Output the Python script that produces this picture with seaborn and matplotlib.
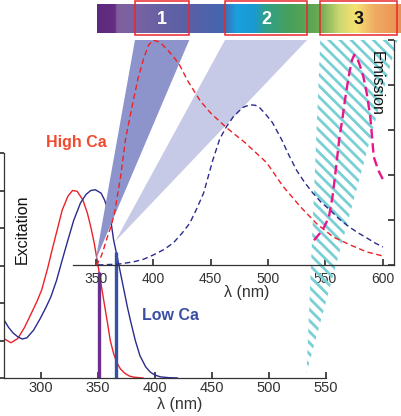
import matplotlib
matplotlib.use("Agg")
import matplotlib.pyplot as plt
from matplotlib.patches import Polygon, Rectangle
from matplotlib.colors import LinearSegmentedColormap
import numpy as np
import seaborn as sns

# --- excitation spectra (nm, a.u.) ---
ex_high_nm = [268, 274, 280, 286, 292, 297, 301, 306, 310, 315, 319, 324, 328, 332,
              337, 341, 344, 347, 350, 353, 356, 359, 361, 364, 367, 370, 374, 378, 382, 390]
ex_high = [1.05, 0.94, 1.05, 1.35, 1.73, 2.05, 2.35, 2.9, 3.4, 4.0, 4.48, 4.85, 5.0, 4.98,
           4.75, 4.4, 4.03, 3.6, 3.07, 2.5, 1.95, 1.4, 1.01, 0.65, 0.4, 0.24, 0.12, 0.05, 0.02, 0.0]

ex_low_nm = [268, 272, 276, 280, 284, 288, 294, 300, 305, 309, 314, 319, 324, 329, 335,
             340, 344, 348, 353, 356, 359, 362, 364, 367, 370, 373, 376, 379, 383, 387,
             392, 396, 400, 405, 412, 420]
ex_low = [1.55, 1.35, 1.2, 1.1, 1.04, 1.07, 1.28, 1.6, 1.9, 2.16, 2.6, 3.15, 3.68, 4.2, 4.67,
          4.9, 5.0, 5.02, 4.93, 4.75, 4.48, 4.1, 3.68, 3.25, 2.8, 2.35, 1.9, 1.5, 1.0, 0.6,
          0.3, 0.16, 0.08, 0.03, 0.01, 0.0]

# excitation lines (nm, height)
laser_nm = [351, 366]
laser_h = [2.82, 3.36]
laser_colors = ["#6b2f8f", "#3552a6"]

# --- emission spectra (nm, a.u.) ---
em_high_nm = [350, 352, 355, 357, 360, 364, 367, 372, 376, 380, 383, 387, 392, 396, 400,
              406, 412, 418, 423, 430, 441, 450, 464, 480, 499, 513, 528, 543, 557, 572,
              586, 600]
em_high = [0.0, 0.05, 0.2, 0.35, 0.6, 0.9, 1.22, 2.0, 2.78, 3.3, 3.67, 4.15, 4.6, 4.88, 5.0,
           4.95, 4.8, 4.62, 4.45, 4.1, 3.65, 3.38, 3.05, 2.72, 2.27, 1.75, 1.3, 0.9, 0.62,
           0.44, 0.29, 0.2]

em_low_nm = [352, 370, 383, 392, 400, 410, 418, 425, 432, 438, 444, 452, 458, 464, 470,
             478, 484, 489, 493, 498, 504, 512, 518, 525, 532, 539, 546, 554, 562, 571,
             578, 586, 593, 600]
em_low = [0.0, 0.02, 0.07, 0.13, 0.22, 0.35, 0.5, 0.7, 0.93, 1.25, 1.6, 2.33, 2.8, 3.08,
          3.3, 3.5, 3.56, 3.55, 3.49, 3.35, 3.16, 2.78, 2.45, 2.1, 1.83, 1.6, 1.4, 1.22,
          1.02, 0.84, 0.72, 0.6, 0.49, 0.4]

em_dye_nm = [540, 545, 549, 553, 556, 558, 560, 562, 565, 567, 569, 571, 573, 575, 577,
             579, 581, 583, 586, 589, 592, 596, 600]
em_dye = [0.55, 0.7, 0.85, 1.07, 1.5, 1.9, 2.35, 2.8, 3.3, 3.67, 4.0, 4.3, 4.55, 4.67, 4.62,
          4.5, 4.35, 4.18, 3.8, 3.29, 2.4, 2.1, 1.9]

# detection bands on the spectrum strip (nm)
band_labels = ["1", "2", "3"]
band_lo = [384.3, 462.6, 545.5]
band_hi = [431.5, 534.0, 612.5]
band_text_colors = ["white", "white", "#111111"]

# light cones: apex (nm, emission units) for each band
cone_apex_nm = [350.0, 367.0, 533.5]
cone_apex_y = [0.1, 0.52, -2.4]

# spectrum strip colour stops (nm, colour)
strip_nm = [351, 366, 368, 384, 410, 432, 460, 472, 488, 497, 519, 537, 545, 562, 576, 593, 616]
strip_col = ["#5c2a7c", "#642e82", "#80609e", "#7a62a2", "#6460a4", "#5860a6", "#4466b0",
             "#1aa0de", "#1a9ad0", "#30a08a", "#48a05a", "#5ca656", "#6eaa54", "#cdd870",
             "#f5e274", "#f0aa62", "#e89054"]

ex_ticks = [300, 350, 400, 450, 500, 550]
em_ticks = [350, 400, 450, 500, 550, 600]

sns.set_theme(style="ticks")
plt.rcParams["font.family"] = ["Liberation Sans", "DejaVu Sans"]
plt.rcParams["hatch.linewidth"] = 2.0

RED = "#ec2227"
NAVY = "#2a2b8f"
MAGENTA = "#e8168a"
TICK_COL = "#333333"

fig = plt.figure(figsize=(4.01, 4.16), dpi=100)
fig.patch.set_facecolor("white")

ax_ex = fig.add_axes([4 / 401, 1 - 378 / 416, 322 / 401, 225 / 416])
ax_em = fig.add_axes([73 / 401, 1 - 265 / 416, 321 / 401, 225 / 416])
ax_bar = fig.add_axes([73 / 401, 1 - 33 / 416, 328 / 401, 29 / 416])
for a in (ax_ex, ax_em, ax_bar):
    a.set_facecolor("none")

# ---- excitation axes ----
ax_ex.set_xlim(268, 550)
ax_ex.set_ylim(0, 6)
sns.lineplot(x=ex_high_nm, y=ex_high, ax=ax_ex, color=RED, linewidth=1.0, sort=False)
sns.lineplot(x=ex_low_nm, y=ex_low, ax=ax_ex, color=NAVY, linewidth=1.0, sort=False)
ax_ex.vlines(laser_nm, 0, laser_h, colors=laser_colors, linewidth=2.4, zorder=3)
ax_ex.set_xticks(ex_ticks)
ax_ex.set_yticks(range(7))
ax_ex.set_yticklabels([])
ax_ex.tick_params(axis="x", direction="in", length=4, pad=2, labelsize=10.5,
                  labelcolor=TICK_COL, color=TICK_COL)
ax_ex.tick_params(axis="y", direction="out", length=4, color=TICK_COL)
sns.despine(ax=ax_ex, top=True, right=True)
for s in ("left", "bottom"):
    ax_ex.spines[s].set_color(TICK_COL)
    ax_ex.spines[s].set_linewidth(0.9)
ax_ex.set_xlabel("")
ax_ex.set_ylabel("")

# ---- emission axes ----
ax_em.set_xlim(330.4, 609.6)
ax_em.set_ylim(0, 5)

# light cones from excitation to detection bands
cone_fill = ["#8d94cc", "#c6cae6", "none"]
for i in range(3):
    pts = [(cone_apex_nm[i], cone_apex_y[i]), (band_lo[i], 5.0), (band_hi[i], 5.0)]
    if i < 2:
        poly = Polygon(pts, closed=True, facecolor=cone_fill[i], edgecolor="none",
                       clip_on=False, zorder=1)
    else:
        poly = Polygon(pts, closed=True, facecolor="none", edgecolor="#78d0d4",
                       hatch="\\\\\\", linewidth=0, clip_on=False, zorder=1)
    ax_em.add_patch(poly)

sns.lineplot(x=em_high_nm, y=em_high, ax=ax_em, color=RED, linewidth=1.0,
             linestyle=(0, (4, 2.5)), sort=False)
sns.lineplot(x=em_low_nm, y=em_low, ax=ax_em, color=NAVY, linewidth=1.0,
             linestyle=(0, (4, 2.5)), sort=False)
sns.lineplot(x=em_dye_nm, y=em_dye, ax=ax_em, color=MAGENTA, linewidth=1.7,
             linestyle=(0, (4, 2)), sort=False)
ax_em.set_xticks(em_ticks)
ax_em.set_yticks(range(6))
ax_em.yaxis.tick_right()
ax_em.set_yticklabels([])
ax_em.tick_params(axis="x", direction="in", length=4, pad=5, labelsize=10,
                  labelcolor=TICK_COL, color=TICK_COL)
ax_em.tick_params(axis="y", direction="in", length=4, color=TICK_COL)
for s in ("left", "top"):
    ax_em.spines[s].set_visible(False)
for s in ("right", "bottom"):
    ax_em.spines[s].set_color(TICK_COL)
    ax_em.spines[s].set_linewidth(0.9)
ax_em.set_xlabel("")
ax_em.set_ylabel("")

# ---- spectrum strip ----
lo, hi = 330.4, 330.4 + 328 / 1.15
stops = [((n - strip_nm[0]) / (strip_nm[-1] - strip_nm[0]), c) for n, c in zip(strip_nm, strip_col)]
cmap = LinearSegmentedColormap.from_list("strip", stops)
ax_bar.imshow(np.linspace(0, 1, 400)[None, :], cmap=cmap, aspect="auto",
              extent=(strip_nm[0], strip_nm[-1], 0, 1))
ax_bar.set_xlim(lo, hi)
ax_bar.set_ylim(0, 1)
for lab, a0, a1, tc in zip(band_labels, band_lo, band_hi, band_text_colors):
    ax_bar.add_patch(Rectangle((a0, -0.07), a1 - a0, 1.17, facecolor="none",
                               edgecolor="#e8272b", linewidth=1.1, clip_on=False))
    ax_bar.text((a0 + a1) / 2, 0.45, lab, ha="center", va="center", color=tc,
                fontsize=13, fontweight="bold")
ax_bar.axis("off")

# ---- text labels ----
fig.text(22 / 401, 1 - 229 / 416, "Excitation", rotation=90, ha="center", va="center",
         fontsize=11.5, color="#111111")
fig.text(376 / 401, 1 - 83 / 416, "Emission", rotation=270, ha="center", va="center",
         fontsize=11.5, color="#111111")
fig.text(180 / 401, 1 - 404 / 416, "λ (nm)", ha="center", va="center", fontsize=11.5,
         color=TICK_COL)
fig.text(247 / 401, 1 - 293 / 416, "λ (nm)", ha="center", va="center", fontsize=11.5,
         color=TICK_COL)
fig.text(76 / 401, 1 - 143 / 416, "High Ca", ha="center", va="center", fontsize=11.5,
         fontweight="bold", color="#f04b2e")
fig.text(171 / 401, 1 - 316 / 416, "Low Ca", ha="center", va="center", fontsize=11.5,
         fontweight="bold", color="#3a4ea2")

fig.savefig("out.png", dpi=100, facecolor="white")
